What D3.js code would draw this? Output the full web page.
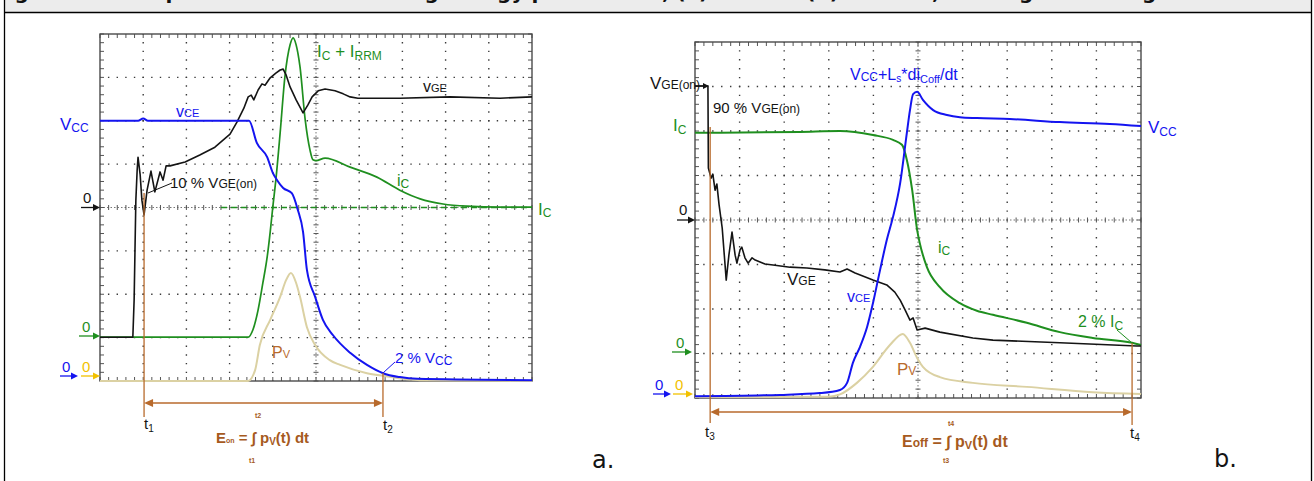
<!DOCTYPE html>
<html>
<head>
<meta charset="utf-8">
<script src="https://cdn.jsdelivr.net/npm/d3@7"></script>
<style>
  html, body { margin: 0; padding: 0; background: #fff; }
  svg { display: block; font-family: "Liberation Sans", Arial, sans-serif; }
  text { white-space: pre; }
</style>
</head>
<body>
<svg id="fig" width="1314" height="481"></svg>
<script>
// all traces in scope divisions: [time div 0..10, screen div 0..8 from bottom]
// a. turn-on
const onVce = [[0,6.0],[0.88,6.0],[1.0,6.05],[1.11,6.0],[3.45,6.0],[3.63,5.49],[3.87,5.16],[4.0,4.80],[4.10,4.63],[4.24,4.45],[4.44,4.33],[4.58,3.94],[4.70,3.44],[4.79,2.56],[4.98,1.94],[5.16,1.41],[5.39,1.06],[5.79,0.65],[6.18,0.37],[6.55,0.18],[6.94,0.09],[7.34,0.05],[10,0.02]];
const onVge = [[0,1.01],[0.76,1.01],[0.79,1.87],[0.81,3.02],[0.83,4.17],[0.86,4.86],[0.88,5.16],[0.93,4.75],[0.97,4.17],[1.02,3.83],[1.09,4.40],[1.18,4.84],[1.27,4.36],[1.39,4.82],[1.46,4.63],[1.53,4.96],[1.62,4.96],[1.97,5.05],[2.31,5.21],[2.66,5.39],[3.01,5.69],[3.17,5.97],[3.33,6.29],[3.43,6.55],[3.50,6.59],[3.56,6.48],[3.66,6.71],[3.75,6.85],[3.82,6.82],[3.94,6.99],[4.07,7.10],[4.17,7.17],[4.24,7.19],[4.31,7.05],[4.40,6.78],[4.54,6.48],[4.70,6.18],[4.81,6.36],[4.91,6.55],[5.05,6.69],[5.21,6.73],[5.44,6.69],[5.63,6.62],[5.79,6.55],[5.97,6.52],[6.94,6.52],[8.10,6.55],[9.26,6.52],[10,6.55]];
const onIc = [[0,1.01],[3.43,1.01],[3.54,1.18],[3.66,1.64],[3.77,2.26],[3.87,2.86],[3.94,3.44],[4.00,4.01],[4.07,4.63],[4.17,5.72],[4.28,7.01],[4.40,7.75],[4.47,7.91],[4.54,7.75],[4.63,7.24],[4.75,6.02],[4.86,5.33],[4.93,5.10],[5.0,5.08],[5.21,5.14],[5.79,4.93],[6.41,4.70],[6.94,4.40],[7.41,4.20],[7.94,4.08],[8.50,4.03],[9.26,4.01],[10,4.01]];
const onPv = [[0,0],[3.43,0],[3.59,0.25],[3.70,0.83],[3.94,1.41],[4.17,1.94],[4.31,2.33],[4.42,2.49],[4.54,2.26],[4.63,1.94],[4.79,1.24],[4.98,0.83],[5.32,0.48],[5.56,0.37],[6.18,0.18],[6.55,0.12],[7.41,0.02],[10,0]];
const onMarks = [1.02, 6.55]; // t1, t2

// b. turn-off
const offVce = [[0,0.04],[1.91,0.07],[2.80,0.11],[3.25,0.18],[3.41,0.34],[3.54,0.79],[3.70,1.15],[3.86,1.60],[3.99,2.13],[4.15,2.88],[4.30,3.55],[4.44,4.07],[4.60,4.83],[4.75,5.96],[4.82,6.47],[4.89,6.83],[4.98,6.88],[5.11,6.70],[5.34,6.47],[5.65,6.36],[5.94,6.31],[6.32,6.29],[7.06,6.27],[8.18,6.20],[9.30,6.16],[10,6.11]];
const offVge = [[0,7.01],[0.29,7.01],[0.30,5.17],[0.36,4.94],[0.40,5.03],[0.45,4.67],[0.49,4.81],[0.54,4.34],[0.61,3.82],[0.70,2.65],[0.76,3.21],[0.83,3.73],[0.90,3.21],[0.94,3.03],[1.01,3.33],[1.05,3.39],[1.12,3.15],[1.19,3.03],[1.28,3.15],[1.35,3.10],[1.57,3.01],[1.75,2.99],[2.13,2.94],[2.51,2.92],[2.91,2.88],[3.25,2.83],[3.41,2.90],[3.59,2.81],[3.99,2.65],[4.30,2.54],[4.48,2.38],[4.60,2.20],[4.71,1.98],[4.82,1.75],[4.89,1.80],[4.98,1.53],[5.16,1.57],[5.49,1.48],[6.23,1.35],[6.68,1.30],[8.18,1.24],[9.91,1.17],[10,1.17]];
const offIc = [[0,5.96],[2.35,5.98],[3.25,6.00],[3.99,5.91],[4.44,5.80],[4.64,5.69],[4.75,5.35],[4.87,4.67],[4.98,3.78],[5.04,3.48],[5.20,2.94],[5.49,2.49],[5.94,2.13],[6.32,1.96],[6.68,1.87],[7.44,1.69],[8.18,1.48],[8.92,1.35],[9.80,1.24],[10,1.19]];
const offPv = [[0,0.02],[3.0,0.03],[3.25,0.08],[3.63,0.34],[3.99,0.70],[4.37,1.19],[4.66,1.44],[4.82,1.24],[4.98,0.90],[5.11,0.70],[5.49,0.47],[6.23,0.34],[7.44,0.25],[8.92,0.13],[10,0.09]];
const offMarks = [0.34, 9.80]; // t3, t4

const BLUE = "#1414f0", GREEN = "#1f8f1f", BLACK = "#141414", TAN = "#dbd1a3",
      ORANGE = "#b86a2c", BROWN = "#a65a1e", YELLOW = "#f2c100";

const fig = d3.select("#fig");

// page frame and clipped caption band
fig.append("rect").attr("x", 5).attr("y", 0).attr("width", 1306).attr("height", 12).attr("fill", "#ececec");
fig.append("text").attr("x", -6).attr("y", -1)
  .attr("font-family", "'DejaVu Sans', Verdana, sans-serif").attr("font-weight", "bold").attr("font-size", 20)
  .attr("fill", "#111")
  .text("Figure 12: Comparison of the switching energy parameters, (a) turn-on (b) turn-off, in the gate driving mode");
fig.append("line").attr("x1", 4).attr("x2", 1312).attr("y1", 12.5).attr("y2", 12.5).attr("stroke", "#000").attr("stroke-width", 1.3);
fig.append("line").attr("x1", 4.5).attr("x2", 4.5).attr("y1", 0).attr("y2", 481).attr("stroke", "#000").attr("stroke-width", 1.3);
fig.append("line").attr("x1", 1311.5).attr("x2", 1311.5).attr("y1", 0).attr("y2", 481).attr("stroke", "#000").attr("stroke-width", 1.3);

function graticule(g, x, y) {
  const [x0, x1] = x.range(), [y1, y0] = y.range();
  const sx = (x1 - x0) / 50, sy = (y1 - y0) / 40;
  // dotted division lines
  for (let i = 1; i < 10; i++) {
    if (i === 5) continue;
    g.append("line").attr("x1", x(i)).attr("x2", x(i)).attr("y1", y0).attr("y2", y1)
      .attr("stroke", "#3a3a3a").attr("stroke-width", 1.4)
      .attr("stroke-dasharray", `1.4 ${sy - 1.4}`).attr("stroke-dashoffset", 0.7);
  }
  for (let j = 1; j < 8; j++) {
    if (j === 4) continue;
    g.append("line").attr("y1", y(j)).attr("y2", y(j)).attr("x1", x0).attr("x2", x1)
      .attr("stroke", "#3a3a3a").attr("stroke-width", 1.4)
      .attr("stroke-dasharray", `1.4 ${sx - 1.4}`).attr("stroke-dashoffset", 0.7);
  }
  // centre axes with minor ticks
  const cx = x(5), cy = y(4);
  g.append("line").attr("x1", x0).attr("x2", x1).attr("y1", cy).attr("y2", cy)
    .attr("stroke", "#777").attr("stroke-width", 1).attr("stroke-dasharray", "1.5 2");
  g.append("line").attr("y1", y0).attr("y2", y1).attr("x1", cx).attr("x2", cx)
    .attr("stroke", "#777").attr("stroke-width", 1).attr("stroke-dasharray", "1.5 2");
  const tk = g.append("g").attr("stroke", "#555").attr("stroke-width", 1);
  for (let k = 0; k <= 50; k++) {
    const xx = x0 + k * sx;
    tk.append("line").attr("x1", xx).attr("x2", xx).attr("y1", cy - 2.5).attr("y2", cy + 2.5);
    tk.append("line").attr("x1", xx).attr("x2", xx).attr("y1", y0).attr("y2", y0 + 4);
    tk.append("line").attr("x1", xx).attr("x2", xx).attr("y1", y1 - 4).attr("y2", y1);
  }
  for (let k = 0; k <= 40; k++) {
    const yy = y0 + k * sy;
    tk.append("line").attr("y1", yy).attr("y2", yy).attr("x1", cx - 2.5).attr("x2", cx + 2.5);
    tk.append("line").attr("y1", yy).attr("y2", yy).attr("x1", x0).attr("x2", x0 + 4);
    tk.append("line").attr("y1", yy).attr("y2", yy).attr("x1", x1 - 4).attr("x2", x1);
  }
  g.append("rect").attr("x", x0).attr("y", y0).attr("width", x1 - x0).attr("height", y1 - y0)
    .attr("fill", "none").attr("stroke", "#4a4a4a").attr("stroke-width", 1.4);
}

function trace(g, x, y, data, color, width, curve) {
  const line = d3.line().x(d => x(d[0])).y(d => y(d[1])).curve(curve || d3.curveLinear);
  g.append("path").datum(data).attr("d", line)
    .attr("fill", "none").attr("stroke", color).attr("stroke-width", width)
    .attr("stroke-linejoin", "round");
}

// text with sub/superscript parts: string, or [string, size, baselineOffset]
function label(g, x, y, parts, color, size, opts) {
  opts = opts || {};
  const t = g.append("text").attr("x", x).attr("y", y).attr("fill", color)
    .attr("font-size", size).attr("font-weight", opts.bold ? "bold" : "normal")
    .attr("text-anchor", opts.anchor || "start");
  if (opts.family) t.attr("font-family", opts.family);
  let off = 0;
  parts.forEach(p => {
    const [s, fs, o] = typeof p === "string" ? [p, size, 0] : p;
    t.append("tspan").attr("font-size", fs).attr("dy", o - off).text(s);
    off = o;
  });
  return t;
}

function zeroArrow(g, xa, xb, yy, color, tx, ty) {
  g.append("line").attr("x1", xa).attr("x2", xb - 5).attr("y1", yy).attr("y2", yy)
    .attr("stroke", color).attr("stroke-width", 1.3);
  g.append("path").attr("d", `M${xb},${yy}l-7,-3.5v7z`).attr("fill", color);
  label(g, tx, ty, ["0"], color, 15);
}

function dblArrow(g, xa, xb, yy, color) {
  g.append("line").attr("x1", xa + 6).attr("x2", xb - 6).attr("y1", yy).attr("y2", yy)
    .attr("stroke", color).attr("stroke-width", 1.3);
  g.append("path").attr("d", `M${xa},${yy}l9,-4v8z`).attr("fill", color);
  g.append("path").attr("d", `M${xb},${yy}l-9,-4v8z`).attr("fill", color);
}

function vline(g, xx, ya, yb, color, w) {
  g.append("line").attr("x1", xx).attr("x2", xx).attr("y1", ya).attr("y2", yb)
    .attr("stroke", color).attr("stroke-width", w || 1.3);
}

function leader(g, xa, ya, xb, yb, color) {
  g.append("line").attr("x1", xa).attr("y1", ya).attr("x2", xb).attr("y2", yb)
    .attr("stroke", color).attr("stroke-width", 1);
}

// ---------- a. turn-on ----------
const xOn = d3.scaleLinear().domain([0, 10]).range([100, 532]);
const yOn = d3.scaleLinear().domain([0, 8]).range([381, 34]);
const gA = fig.append("g");
graticule(gA, xOn, yOn);
gA.append("line").attr("x1", xOn(2.8)).attr("x2", xOn(10)).attr("y1", yOn(4)).attr("y2", yOn(4))
  .attr("stroke", GREEN).attr("stroke-width", 1.3).attr("stroke-dasharray", "6 4");
trace(gA, xOn, yOn, onPv, TAN, 2, d3.curveMonotoneX);
trace(gA, xOn, yOn, onIc, GREEN, 1.7, d3.curveMonotoneX);
trace(gA, xOn, yOn, onVge, BLACK, 1.6);
trace(gA, xOn, yOn, onVce, BLUE, 2, d3.curveMonotoneX);

vline(gA, xOn(onMarks[0]), 193, 417, ORANGE);
vline(gA, xOn(onMarks[1]), 373, 417, ORANGE);
dblArrow(gA, xOn(onMarks[0]), xOn(onMarks[1]), 403, ORANGE);
leader(gA, 148, 193, 172, 183, BLACK);
leader(gA, xOn(onMarks[1]), 373, 395, 362, BLUE);

zeroArrow(gA, 81, 100, yOn(4), BLACK, 83, 203);
zeroArrow(gA, 79, 100, 336, GREEN, 82, 332);
zeroArrow(gA, 60, 78, 376, BLUE, 62, 372);
zeroArrow(gA, 81, 100, 376, YELLOW, 82, 372);

label(gA, 60, 130, ["V", ["CC", 12, 2]], BLUE, 17);
label(gA, 176, 117, ["v", ["CE", 11, 0]], BLUE, 16);
label(gA, 170, 188, ["10 % V", ["GE(on)", 12, 0]], BLACK, 15);
label(gA, 317, 57, ["I", ["C", 12, 3], [" + I", 17, 0], ["RRM", 12, 3]], GREEN, 17);
label(gA, 423, 92, ["v", ["GE", 11, 0]], BLACK, 16);
label(gA, 397, 186, ["i", ["C", 12, 2]], GREEN, 16);
label(gA, 538, 215, ["I", ["C", 12, 2]], GREEN, 17);
label(gA, 272, 358, ["P", ["V", 11, 0]], ORANGE, 16);
label(gA, 395, 363, ["2 % V", ["CC", 12, 2]], BLUE, 15);
label(gA, 144, 429, ["t", ["1", 10, 3]], BLACK, 15);
label(gA, 383, 430, ["t", ["2", 10, 3]], BLACK, 15);
label(gA, 216, 443, ["E", ["on", 7, 0], " = ∫ p", ["V", 10, 2], ["(t) dt", 15, 0]], BROWN, 15, { bold: true });
label(gA, 255, 418, ["t2"], BROWN, 7, { bold: true });
label(gA, 249, 463, ["t1"], BROWN, 7, { bold: true });
label(gA, 592, 468, ["a."], BLACK, 24, { family: "'DejaVu Sans', Verdana, sans-serif" });

// ---------- b. turn-off ----------
const xOff = d3.scaleLinear().domain([0, 10]).range([695, 1141]);
const yOff = d3.scaleLinear().domain([0, 8]).range([398, 42]);
const gB = fig.append("g");
graticule(gB, xOff, yOff);
trace(gB, xOff, yOff, offPv, TAN, 2, d3.curveMonotoneX);
trace(gB, xOff, yOff, offIc, GREEN, 2, d3.curveMonotoneX);
trace(gB, xOff, yOff, offVge, BLACK, 1.6);
trace(gB, xOff, yOff, offVce, BLUE, 2, d3.curveMonotoneX);

vline(gB, xOff(offMarks[0]), 127, 423, ORANGE);
vline(gB, xOff(offMarks[1]), 343, 425, ORANGE);
dblArrow(gB, xOff(offMarks[0]), xOff(offMarks[1]), 412, ORANGE);
leader(gB, 1117, 330, xOff(offMarks[1]), 343, GREEN);
// V_GE(on) level marker
gB.append("line").attr("x1", 695).attr("x2", 705).attr("y1", 86).attr("y2", 86).attr("stroke", BLACK).attr("stroke-width", 1.2);
gB.append("path").attr("d", "M709,86l-6,-3v6z").attr("fill", BLACK);

zeroArrow(gB, 677, 695, yOff(4), BLACK, 679, 215);
zeroArrow(gB, 672, 692, 352, GREEN, 676, 348);
zeroArrow(gB, 653, 671, 394, BLUE, 655, 390);
zeroArrow(gB, 673, 693, 394, YELLOW, 675, 390);

label(gB, 650, 89, ["V", ["GE(on)", 12, 0]], BLACK, 17);
label(gB, 713, 113, ["90 % V", ["GE(on)", 12, 0]], BLACK, 15);
label(gB, 673, 131, ["I", ["C", 12, 3]], GREEN, 17);
label(gB, 850, 80, ["V", ["CC", 12, 1], ["+L", 16, 0], ["s", 10, 2], ["*di", 16, 0], ["Coff", 11, 3], ["/dt", 16, 0]], BLUE, 16);
label(gB, 1148, 133, ["V", ["CC", 12, 3]], BLUE, 17);
label(gB, 938, 253, ["i", ["C", 12, 2]], GREEN, 16);
label(gB, 787, 285, ["V", ["GE", 12, 0]], BLACK, 17);
label(gB, 847, 302, ["v", ["CE", 11, 0]], BLUE, 16);
label(gB, 897, 375, ["P", ["V", 12, 0]], ORANGE, 17);
label(gB, 1078, 327, ["2 % I", ["C", 12, 3]], GREEN, 16);
label(gB, 705, 437, ["t", ["3", 10, 3]], BLACK, 15);
label(gB, 1130, 438, ["t", ["4", 10, 3]], BLACK, 15);
label(gB, 902, 447, ["E", ["off", 12, 0], " = ∫ p", ["V", 11, 2], ["(t) dt", 16, 0]], BROWN, 16, { bold: true });
label(gB, 948, 426, ["t4"], BROWN, 7, { bold: true });
label(gB, 943, 463, ["t3"], BROWN, 7, { bold: true });
label(gB, 1214, 467, ["b."], BLACK, 24, { family: "'DejaVu Sans', Verdana, sans-serif" });
</script>
</body>
</html>
